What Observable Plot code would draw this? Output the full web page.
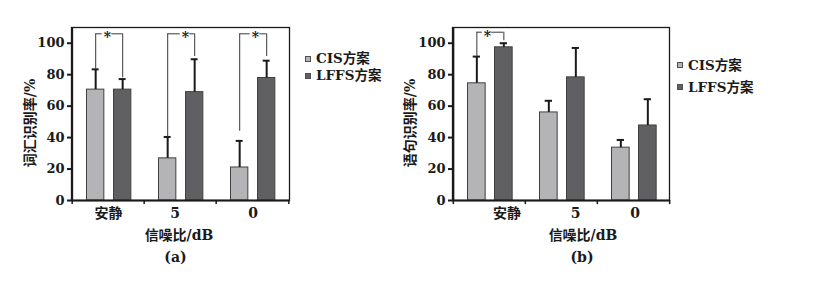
<!DOCTYPE html>
<html><head><meta charset="utf-8">
<script src="https://cdn.jsdelivr.net/npm/d3@7"></script>
<script src="https://cdn.jsdelivr.net/npm/@observablehq/plot@0.6"></script>
<style>
body{margin:0;background:#fff;}
#wrap{position:relative;width:816px;height:287px;overflow:hidden;font-family:"DejaVu Serif","Noto Sans CJK SC",serif;font-weight:bold;color:#1a1a1a;}
.panel{position:absolute;top:0;}
.legend{position:absolute;font-size:13.5px;}
.row{position:absolute;left:0;white-space:nowrap;height:17px;line-height:17px;display:flex;align-items:center;}
.sw{display:inline-block;width:4px;height:4px;border:1px solid #505050;margin-right:5px;}
</style></head><body><div id="wrap"></div>
<script>
// ---- data ----
const categories = ["安静", "5", "0"];
const seriesNames = ["CIS方案", "LFFS方案"];
const yTicks = [0, 20, 40, 60, 80, 100];
// (a) word recognition (mean, SD)
const wordCIS = [70.5, 26.8, 21.0];
const wordCISsd = [12.9, 13.6, 16.9];
const wordLFFS = [70.5, 68.9, 77.9];
const wordLFFSsd = [6.7, 20.9, 11.0];
// (b) sentence recognition (mean, SD)
const sentCIS = [74.5, 56.0, 33.6];
const sentCISsd = [17.0, 7.4, 4.9];
const sentLFFS = [97.4, 78.3, 47.7];
const sentLFFSsd = [2.6, 18.7, 16.7];
// significance brackets: category, height, lower end of left / right leg
const wordSigCats = ["安静", "5", "0"];
const wordSigTop = [106, 106, 106];
const wordSigLeft = [83.4, 40.4, 44];
const wordSigRight = [78, 91.5, 91.5];
const sentSigCats = ["安静"];
const sentSigTop = [107];
const sentSigLeft = [91.5];
const sentSigRight = [101.5];

// ---- style ----
const FONT = '"DejaVu Serif","Noto Sans CJK SC",serif';
const COLORS = ["#b4b4b6", "#606062"];
const H = 287, mT = 27, mB = 87;
const barPos = [[14.5, 32.5], [41.5, 59.5]]; // px within band

function panel(o) {
  const bw = (o.width - o.mL - o.mR) / categories.length;
  const cL = (barPos[0][0] + barPos[0][1]) / 2, cR = (barPos[1][0] + barPos[1][1]) / 2;
  const rows = categories.map((c, i) => ({cat: c, v0: o.s0[i], t0: o.s0[i] + o.sd0[i], v1: o.s1[i], t1: o.s1[i] + o.sd1[i]}));
  const sig = o.sigCats.map((c, i) => ({cat: c, top: o.sigTop[i], left: o.sigLeft[i], right: o.sigRight[i], star: o.starShift[i]}));
  const ink = "#1a1a1a", brk = "#4a4a4a";
  const marks = [
    Plot.frame({stroke: ink, strokeWidth: 1.3}),
    Plot.barY(rows, {x: "cat", y: "v0", fill: COLORS[0], stroke: "#404040", strokeWidth: 1, insetLeft: barPos[0][0], insetRight: bw - barPos[0][1]}),
    Plot.barY(rows, {x: "cat", y: "v1", fill: COLORS[1], stroke: "#404040", strokeWidth: 1, insetLeft: barPos[1][0], insetRight: bw - barPos[1][1]}),
    // error bars (upper)
    Plot.ruleX(rows, {x: "cat", y1: "v0", y2: "t0", dx: cL - bw / 2, stroke: ink, strokeWidth: 2}),
    Plot.ruleX(rows, {x: "cat", y1: "v1", y2: "t1", dx: cR - bw / 2, stroke: ink, strokeWidth: 2}),
    Plot.tickY(rows, {x: "cat", y: "t0", insetLeft: cL - 3.8, insetRight: bw - cL - 3.8, stroke: ink, strokeWidth: 2}),
    Plot.tickY(rows, {x: "cat", y: "t1", insetLeft: cR - 3.8, insetRight: bw - cR - 3.8, stroke: ink, strokeWidth: 2}),
    // significance brackets
    Plot.ruleX(sig, {x: "cat", y1: "left", y2: "top", dx: cL - bw / 2, stroke: brk, strokeWidth: 1.1}),
    Plot.ruleX(sig, {x: "cat", y1: "right", y2: "top", dx: cR - bw / 2, stroke: brk, strokeWidth: 1.1}),
    ...sig.flatMap(s => [
      Plot.tickY([s], {x: "cat", y: "top", insetLeft: cL, insetRight: bw - (bw / 2 + s.star - 5), stroke: brk, strokeWidth: 1.1}),
      Plot.tickY([s], {x: "cat", y: "top", insetLeft: bw / 2 + s.star + 4, insetRight: bw - cR, stroke: brk, strokeWidth: 1.1}),
      Plot.text([s], {x: "cat", y: "top", text: () => "*", dx: s.star, dy: 4, fontSize: 14, fill: ink})
    ]),
    // axes lines
    Plot.ruleY([0], {stroke: ink, strokeWidth: 2}),
    Plot.ruleX([categories[0]], {x: d => d, y1: 0, y2: 110, dx: -bw / 2, stroke: ink, strokeWidth: 2}),
    Plot.ruleX(categories, {x: d => d, y1: 0, y2: -2.6, dx: -bw / 2, stroke: ink, strokeWidth: 1.5}),
    Plot.ruleX([categories[categories.length - 1]], {x: d => d, y1: 0, y2: -2.6, dx: bw / 2, stroke: ink, strokeWidth: 1.5}),
    Plot.axisY(yTicks, {tickSize: 4, tickPadding: 3, fontSize: 13, fontWeight: "bold", strokeWidth: 2, stroke: ink, fill: ink, label: null, tickFormat: d => d}),
    // x labels
    ...categories.map((c, i) => Plot.text([c], {x: d => d, frameAnchor: "bottom", lineAnchor: "middle", dy: 13, dx: o.labelShift[i], fontSize: 14, fontWeight: "bold", fill: ink})),
    Plot.text([o.xTitle], {frameAnchor: "bottom", lineAnchor: "middle", dy: 35, dx: o.titleShift, fontSize: 14, fontWeight: "bold", fill: ink}),
    Plot.text([o.tag], {frameAnchor: "bottom", lineAnchor: "middle", dy: 57.5, dx: o.tagShift, fontSize: 14, fontWeight: "bold", fill: ink}),
    Plot.text([o.yTitle], {frameAnchor: "left", textAnchor: "middle", lineAnchor: "middle", rotate: -90, dx: o.yTitleX - o.mL, dy: 9, fontSize: 14, fontWeight: "bold", fill: ink})
  ];
  const svg = Plot.plot({
    width: o.width, height: H, marginLeft: o.mL, marginRight: o.mR, marginTop: mT, marginBottom: mB,
    style: {fontFamily: FONT, fontWeight: "bold", background: "transparent", overflow: "visible"},
    x: {domain: categories, padding: 0, axis: null},
    y: {domain: [0, 110]},
    marks
  });
  const div = document.createElement("div");
  div.className = "panel";
  div.style.left = o.left + "px";
  div.appendChild(svg);
  document.getElementById("wrap").appendChild(div);

  const lg = document.createElement("div");
  lg.className = "legend";
  lg.style.left = o.legX + "px";
  lg.style.top = "0px";
  seriesNames.forEach((n, i) => {
    const r = document.createElement("div");
    r.className = "row";
    r.style.top = (o.legY[i] - 8.5) + "px";
    const sw = document.createElement("span");
    sw.className = "sw";
    sw.style.background = COLORS[i];
    r.appendChild(sw);
    r.appendChild(document.createTextNode(n));
    lg.appendChild(r);
  });
  document.getElementById("wrap").appendChild(lg);
}

panel({left: 0, width: 300, mL: 71, mR: 11, s0: wordCIS, sd0: wordCISsd, s1: wordLFFS, sd1: wordLFFSsd,
  sigCats: wordSigCats, sigTop: wordSigTop, sigLeft: wordSigLeft, sigRight: wordSigRight, starShift: [-1, 5, 3],
  labelShift: [0, -5.5, 0.5], titleShift: -1.5, tagShift: -5, yTitle: "词汇识别率/%", yTitleX: 30,
  xTitle: "信噪比/dB", tag: "(a)", legX: 305, legY: [58.5, 75.5]});
panel({left: 380, width: 300, mL: 72, mR: 11, s0: sentCIS, sd0: sentCISsd, s1: sentLFFS, sd1: sentLFFSsd,
  sigCats: sentSigCats, sigTop: sentSigTop, sigLeft: sentSigLeft, sigRight: sentSigRight, starShift: [-2],
  labelShift: [17.5, 14, 1.7], titleShift: 22, tagShift: 21, yTitle: "语句识别率/%", yTitleX: 410.5 - 380,
  xTitle: "信噪比/dB", tag: "(b)", legX: 677, legY: [65, 87]});
</script></body></html>
